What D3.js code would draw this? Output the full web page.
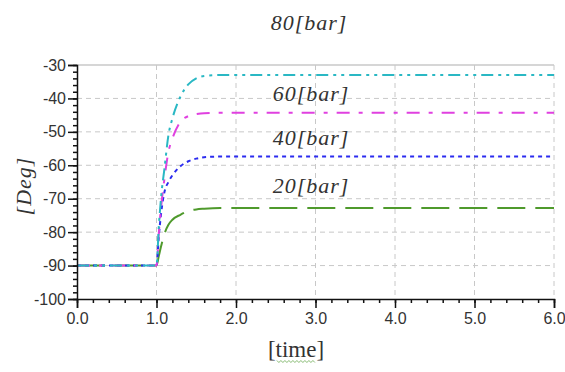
<!DOCTYPE html>
<html>
<head>
<meta charset="utf-8">
<script src="https://cdn.jsdelivr.net/npm/d3@7"></script>
<style>
  body { margin: 0; background: #fff; }
  svg { display: block; }
  .tick text { font-family: 'Liberation Sans', Arial, sans-serif; fill: #333; }
  .lbl { font-family: 'Liberation Serif', 'DejaVu Serif', serif; font-style: italic; font-size: 22px; letter-spacing: 1px; fill: #333; }
</style>
</head>
<body>
<svg id="chart"></svg>
<script>
// sample times (s)
const time = [0, 1.0, 1.03, 1.06, 1.1, 1.15, 1.2, 1.3, 1.4, 1.5, 1.6, 1.8, 2.0, 3.0, 4.0, 5.0, 6.0];

// response per pressure
const bar80 = [-90, -90, -78, -69, -61, -51, -46, -39.5, -35.8, -34, -33.3, -33, -33, -33, -33, -33, -33];
const bar60 = [-90, -90, -80, -72, -64, -56, -52, -47, -45.3, -44.7, -44.4, -44.3, -44.3, -44.3, -44.3, -44.3, -44.3];
const bar40 = [-90, -90, -81, -74, -68, -65, -63, -60.3, -58.8, -58, -57.6, -57.4, -57.4, -57.4, -57.4, -57.4, -57.4];
const bar20 = [-90, -90, -87, -84, -80.5, -77.8, -76.3, -74.8, -73.7, -73.2, -73, -72.8, -72.8, -72.8, -72.8, -72.8, -72.8];

const xTicks = [0, 1, 2, 3, 4, 5, 6];
const yTicks = [-100, -90, -80, -70, -60, -50, -40, -30];

const series = [
  { name: '20[bar]', values: bar20, color: '#4f9a2c', dash: '28,10' },
  { name: '40[bar]', values: bar40, color: '#2b2bef', dash: '4,4' },
  { name: '60[bar]', values: bar60, color: '#e040e0', dash: '13,9,4,9' },
  { name: '80[bar]', values: bar80, color: '#2ab8c4', dash: '12,5,3,5,3,5' },
];

const width = 565;
const height = 372;
const margin = { top: 65, right: 11, bottom: 73, left: 77 };
const innerWidth = width - margin.left - margin.right;
const innerHeight = height - margin.top - margin.bottom;

const svg = d3.select('#chart').attr('width', width).attr('height', height);
const g = svg.append('g').attr('transform', `translate(${margin.left}, ${margin.top})`);

const x = d3.scaleLinear().domain([0, 6]).range([0, innerWidth]);
const y = d3.scaleLinear().domain([-100, -30]).range([innerHeight, 0]);

// grid
g.selectAll('.vgrid')
  .data(xTicks.slice(1))
  .enter().append('line')
    .attr('x1', d => x(d)).attr('x2', d => x(d))
    .attr('y1', 0).attr('y2', innerHeight)
    .attr('stroke', '#c8c8c8').attr('stroke-dasharray', '5,4');

g.selectAll('.hgrid')
  .data(yTicks.slice(1, -1))
  .enter().append('line')
    .attr('x1', 0).attr('x2', innerWidth)
    .attr('y1', d => y(d)).attr('y2', d => y(d))
    .attr('stroke', '#c8c8c8').attr('stroke-dasharray', '5,4');

// top border
g.append('line')
  .attr('x1', 0).attr('x2', innerWidth)
  .attr('y1', y(-30)).attr('y2', y(-30))
  .attr('stroke', '#c8c8c8').attr('stroke-width', 1.5);

// curves
const line = d3.line()
  .x((d, i) => x(time[i]))
  .y(d => y(d))
  .curve(d3.curveMonotoneX);

g.selectAll('.curve')
  .data(series)
  .enter().append('path')
    .attr('fill', 'none')
    .attr('stroke', d => d.color)
    .attr('stroke-width', 2)
    .attr('stroke-dasharray', d => d.dash)
    .attr('d', d => line(d.values));

// minor ticks
const xAxisMinor = d3.axisBottom(x).tickValues(d3.range(0, 6.01, 0.2)).tickSize(4).tickFormat('');
const yAxisMinor = d3.axisLeft(y).tickValues(d3.range(-100, -29, 2)).tickSize(4).tickFormat('');

g.append('g').attr('transform', `translate(0, ${innerHeight})`).call(xAxisMinor)
  .call(s => s.selectAll('text').remove())
  .call(s => s.selectAll('line').attr('stroke', '#111').attr('stroke-width', 1.5));
g.append('g').call(yAxisMinor)
  .call(s => s.selectAll('text').remove())
  .call(s => s.selectAll('line').attr('stroke', '#111').attr('stroke-width', 1.5));

// major ticks
const xAxis = d3.axisBottom(x).tickValues(xTicks).tickSize(9).tickPadding(5).tickFormat(d3.format('.1f'));
const yAxis = d3.axisLeft(y).tickValues(yTicks).tickSize(9).tickPadding(2).tickFormat(d => d);

g.append('g').attr('transform', `translate(0, ${innerHeight})`).call(xAxis)
  .call(s => s.select('.domain').attr('stroke', '#111').attr('stroke-width', 1.5))
  .call(s => s.selectAll('line').attr('stroke', '#111').attr('stroke-width', 1.5))
  .call(s => s.selectAll('text').attr('font-size', 16));
g.append('g').call(yAxis)
  .call(s => s.select('.domain').attr('stroke', '#111').attr('stroke-width', 1.5))
  .call(s => s.selectAll('line').attr('stroke', '#111').attr('stroke-width', 1.5))
  .call(s => s.selectAll('text').attr('font-size', 16));

// series labels
const labelPos = { '80[bar]': [309, 30], '60[bar]': [311, 101], '40[bar]': [311, 145], '20[bar]': [311, 193] };
series.forEach(s => {
  svg.append('text')
    .attr('class', 'lbl')
    .attr('x', labelPos[s.name][0])
    .attr('y', labelPos[s.name][1])
    .attr('text-anchor', 'middle')
    .text(s.name);
});

// axis titles
svg.append('text')
  .attr('class', 'lbl')
  .attr('transform', 'translate(31, 186) rotate(-90)')
  .attr('text-anchor', 'middle')
  .text('[Deg]');

const tl = svg.append('text')
  .attr('x', 296).attr('y', 357)
  .attr('text-anchor', 'middle')
  .attr('font-family', "'Liberation Serif', 'DejaVu Serif', serif")
  .attr('font-size', 23)
  .attr('fill', '#333')
  .text('[time]');

// spell-check squiggle under the word
const bb = tl.node().getBBox();
const wave = d3.range(bb.x + 9, bb.x + bb.width - 8, 2)
  .map((px, i) => [px, bb.y + bb.height - 1 + (i % 2 ? 1.5 : -0.5)]);
svg.append('path')
  .attr('d', d3.line()(wave))
  .attr('fill', 'none')
  .attr('stroke', '#6aa84f')
  .attr('stroke-width', 0.8);
</script>
</body>
</html>
